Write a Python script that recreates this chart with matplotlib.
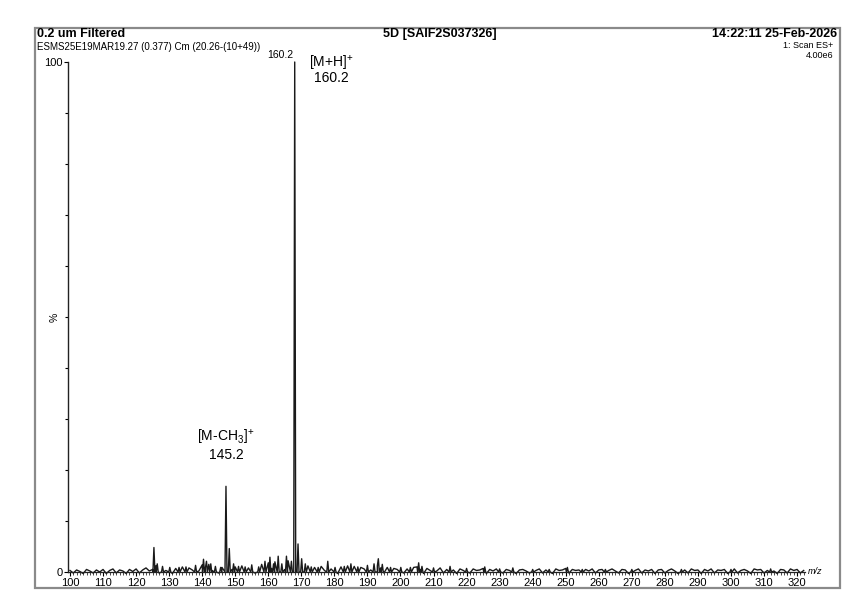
import numpy as np
import matplotlib
matplotlib.use("Agg")
import matplotlib.pyplot as plt
from matplotlib.patches import Rectangle
from matplotlib.ticker import MultipleLocator, FixedLocator

plt.rcParams['font.family'] = ['Liberation Sans', 'DejaVu Sans']
plt.rcParams['mathtext.default'] = 'regular'

# peak list (m/z as drawn on the axis, relative intensity %)
peak_mz = [125.4, 126.4, 128.0, 130.2, 133.0, 135.1, 138.0, 140.4, 141.3, 142.6,
           144.0, 145.6, 147.2, 148.2, 149.5, 151.0, 153.0, 155.0, 157.1, 159.0,
           160.5, 161.6, 163.0, 164.1, 165.5, 167.0, 168.0, 169.0, 170.1, 171.2,
           173.0, 175.1, 178.0, 180.2, 183.0, 185.0, 187.1, 190.0, 192.0, 193.3,
           194.5, 197.0, 200.1, 203.0, 205.5, 206.5, 210.0, 215.0, 220.0, 225.5,
           230.0, 234.0, 240.0, 245.0, 250.5, 255.0, 262.0, 270.0, 285.0, 300.0,
           312.0]
peak_int = [4.8, 1.6, 1.1, 0.9, 0.9, 1.0, 1.3, 2.5, 2.1, 1.6,
            1.1, 0.9, 16.8, 4.6, 1.6, 1.1, 1.0, 1.4, 1.0, 2.1,
            2.9, 1.6, 3.1, 1.6, 3.1, 2.1, 100.0, 5.5, 2.6, 1.6,
            1.0, 0.9, 2.1, 0.9, 1.1, 1.6, 1.0, 1.3, 1.6, 2.6,
            1.5, 0.9, 0.9, 0.9, 1.8, 1.1, 0.8, 1.1, 0.7, 1.0,
            0.6, 0.8, 0.5, 0.5, 0.9, 0.5, 0.5, 0.5, 0.5, 0.5,
            0.6]

# baseline noise, one value per m/z unit from 100 to 322
noise_start = 100
noise = [
    0.3, -0.2, 0.4, 0.1, -0.3, 0.5, 0.2, -0.2, 0.4, 0.0, 0.5, -0.3, 0.3, 0.6, -0.2, 0.4, 0.2, -0.3, 0.5, 0.1,
    0.6, -0.2, 0.4, 0.8, 0.2, 0.5, 1.2, -0.2, 0.9, 0.3, 1.1, -0.3, 0.7, 0.5, 1.0, -0.2, 0.8, 0.4, 1.3, 0.2,
    1.4, 0.9, 1.5, 0.3, 1.1, -0.2, 0.9, 0.6, 2.0, 0.5, 1.0, -0.3, 1.2, 0.4, 0.8, 1.1, -0.2, 0.9, 1.5, 0.6,
    1.8, 0.7, 2.0, 0.9, 1.7, 0.5, 2.2, 1.0, 1.5, 2.0, 1.6, 0.8, 1.2, -0.2, 0.9, 0.5, 1.1, 0.3, 1.4, 0.6,
    0.9, -0.3, 1.0, 0.5, 1.2, 0.3, 1.1, -0.2, 0.9, 0.6, 1.0, 0.4, 1.4, 1.2, 0.8, -0.2, 0.9, 0.3, 0.7, 0.5,
    0.8, -0.2, 0.6, 0.4, 0.9, 1.0, 0.5, -0.3, 0.7, 0.3, 0.6, 0.2, 0.8, -0.2, 0.5, 0.7, 0.4, -0.3, 0.6, 0.3,
    0.5, -0.2, 0.6, 0.3, 0.4, 0.7, -0.3, 0.5, 0.2, 0.6, 0.4, -0.2, 0.5, 0.3, 0.6, -0.3, 0.4, 0.5, 0.2, -0.2,
    0.5, 0.3, 0.6, -0.2, 0.4, 0.5, -0.3, 0.6, 0.3, 0.4, 0.7, -0.2, 0.5, 0.3, 0.4, -0.3, 0.5, 0.2, 0.6, -0.2,
    0.4, 0.5, -0.3, 0.3, 0.6, 0.2, -0.2, 0.5, 0.4, -0.3, 0.5, 0.3, 0.6, -0.2, 0.4, 0.2, 0.5, -0.3, 0.4, 0.5,
    -0.2, 0.3, 0.6, 0.2, -0.3, 0.5, 0.4, -0.2, 0.6, 0.3, 0.4, -0.3, 0.5, 0.2, 0.6, -0.2, 0.4, 0.3, 0.5, -0.3,
    0.4, 0.6, -0.2, 0.3, 0.5, 0.2, -0.3, 0.6, 0.4, 0.5, -0.2, 0.3, 0.6, 0.2, -0.3, 0.5, 0.4, -0.2, 0.6, 0.3,
    0.5, -0.2, 0.3,
]

x_ticks = list(range(100, 330, 10))

# build profile trace: noise points + narrow triangular peaks
hw = 0.3
pts = [(noise_start + i, v) for i, v in enumerate(noise)]
for m, h in zip(peak_mz, peak_int):
    pts = [(x, y) for x, y in pts if abs(x - m) > hw]
    pts += [(m - hw, 0.0), (m, h), (m + hw, 0.0)]
pts.sort()
tx = np.array([p[0] for p in pts])
ty = np.array([p[1] for p in pts])

W, H = 855, 594
fig = plt.figure(figsize=(W / 100, H / 100), dpi=100)
ax = fig.add_axes([68 / W, 22 / H, (805 - 68) / W, 510 / H])

ax.plot(tx, ty, color='#1a1a1a', lw=1.0, clip_on=False)
ax.set_xlim(99.4, 322.4)
ax.set_ylim(0, 100)

for s in ['top', 'right']:
    ax.spines[s].set_visible(False)
ax.spines['left'].set_color('#222222')
ax.spines['bottom'].set_color('#222222')
ax.spines['left'].set_linewidth(1.0)
ax.spines['bottom'].set_linewidth(0.9)

ax.set_xticks(x_ticks)
ax.set_xticklabels([str(t) for t in x_ticks])
ax.xaxis.set_minor_locator(MultipleLocator(1))
ax.tick_params(axis='x', which='major', length=3, width=0.8, labelsize=8, pad=1)
ax.tick_params(axis='x', which='minor', length=2, width=0.5)
ax.set_yticks([0, 100])
ax.set_yticklabels(['0', '100'])
ax.yaxis.set_minor_locator(FixedLocator(list(range(10, 100, 10))))
ax.tick_params(axis='y', which='major', length=3, width=0.8, labelsize=8, pad=1)
ax.tick_params(axis='y', which='minor', length=2.5, width=0.8)

ax.text(-0.012, 0.5, '%', transform=ax.transAxes, rotation=90,
        ha='right', va='center', fontsize=7.5)
ax.text(1.004, 0.0, 'm/z', transform=ax.transAxes, ha='left', va='center',
        fontsize=6.5, style='italic')

# peak annotations
ax.text(167.6, 100.3, '160.2', ha='right', va='bottom', fontsize=7.5)
ax.text(179.0, 99.8, '[M+H]$^{+}$', ha='center', va='center', fontsize=10)
ax.text(179.0, 96.8, '160.2', ha='center', va='center', fontsize=10)
ax.text(147.2, 23.0, '145.2', ha='center', va='center', fontsize=10)
ax.text(147.2, 24.6, '[M-CH$_{3}$]$^{+}$', ha='center', va='bottom', fontsize=10)

# header
def fx(px):
    return px / W

def fy(py):
    return 1 - py / H

fig.text(fx(37), fy(34), '0.2 um Filtered', ha='left', va='center',
         fontsize=9, fontweight='bold')
fig.text(fx(37), fy(47), 'ESMS25E19MAR19.27 (0.377) Cm (20.26-(10+49))',
         ha='left', va='center', fontsize=7)
fig.text(fx(440), fy(34), '5D [SAIF2S037326]', ha='center', va='center',
         fontsize=9, fontweight='bold')
fig.text(fx(837), fy(34), '14:22:11 25-Feb-2026', ha='right', va='center',
         fontsize=9, fontweight='bold')
fig.text(fx(833), fy(46), '1: Scan ES+', ha='right', va='center', fontsize=6.5)
fig.text(fx(833), fy(55), '4.00e6', ha='right', va='center', fontsize=6.5)

fig.patches.append(Rectangle((fx(35), fy(588)), (840 - 35) / W, (588 - 28) / H,
                             transform=fig.transFigure, fill=False,
                             edgecolor='#8a8a8a', lw=1.6))

fig.savefig('out.png', dpi=100)
